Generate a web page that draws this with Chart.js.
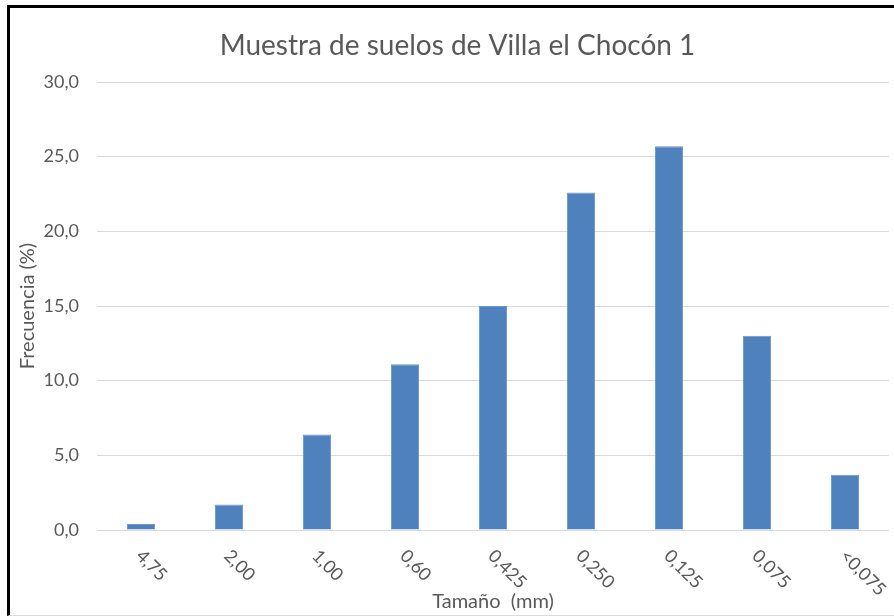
<!DOCTYPE html>
<html>
<head>
<meta charset="utf-8">
<script src="https://cdn.jsdelivr.net/npm/chart.js@4/dist/chart.umd.min.js"></script>
<style>
  html, body { margin: 0; padding: 0; background: #fff; }
  #wrap { position: relative; width: 894px; height: 616px; overflow: hidden; background: #fff; }
  #wrap canvas { position: absolute; left: 0; top: 0; }
  #frame {
    position: absolute; left: 7px; top: 5px; width: 900px; height: 611px;
    border-left: 3px solid #000; border-top: 3px solid #000; border-bottom: 1px solid #dcdcdc;
    pointer-events: none; box-sizing: border-box;
  }
</style>
</head>
<body>
<div id="wrap">
  <canvas id="c" width="914" height="616"></canvas>
  <div id="frame"></div>
</div>
<script>
// Particle-size classes (mm) and the share of sample retained in each (%)
const tamanos = ['4,75', '2,00', '1,00', '0,60', '0,425', '0,250', '0,125', '0,075', '<0,075'];
const frecuencia = [0.4, 1.7, 6.4, 11.1, 15.0, 22.6, 25.7, 13.0, 3.7];
const yTicks = [0, 5, 10, 15, 20, 25, 30];

const FONT = 'Lato, "Open Sans", sans-serif';
const GREY = '#595959';

// Category labels are written diagonally downwards to the right, below the axis
const diagonalLabels = {
  id: 'diagonalLabels',
  afterDraw(chart) {
    const ctx = chart.ctx;
    const x = chart.scales.x;
    const base = chart.chartArea.bottom;
    ctx.save();
    ctx.font = '18px ' + FONT;
    ctx.fillStyle = GREY;
    ctx.textAlign = 'left';
    ctx.textBaseline = 'middle';
    tamanos.forEach((lab, i) => {
      const px = x.getPixelForTick(i);
      ctx.save();
      ctx.translate(px - 2, base + 23);
      ctx.rotate(Math.PI / 4);
      ctx.fillText(lab, 0, 0);
      ctx.restore();
    });
    ctx.restore();
  }
};

new Chart(document.getElementById('c'), {
  type: 'bar',
  data: {
    labels: tamanos,
    datasets: [{
      data: frecuencia,
      backgroundColor: '#4f81bd',
      borderColor: '#6a96cc',
      borderWidth: 1,
      barPercentage: 0.32,
      categoryPercentage: 1.0
    }]
  },
  options: {
    responsive: false,
    animation: false,
    layout: { padding: { left: 26, right: 25, top: 0, bottom: 0 } },
    plugins: {
      legend: { display: false },
      tooltip: { enabled: false },
      title: {
        display: true,
        text: 'Muestra de suelos de Villa el Chocón 1',
        color: GREY,
        font: { family: FONT, size: 28, weight: 'normal' },
        padding: { top: 29, bottom: 19.4 }
      }
    },
    scales: {
      x: {
        afterFit(scale) { scale.height = 86; },
        grid: { display: false },
        border: { display: false },
        ticks: { display: false },
        title: {
          display: true,
          text: 'Tamaño  (mm)',
          color: GREY,
          font: { family: FONT, size: 20 },
          padding: { top: 50, bottom: 2 }
        }
      },
      y: {
        min: 0,
        max: 30,
        afterFit(scale) { scale.width = 71; },
        afterBuildTicks(scale) { scale.ticks = yTicks.map(v => ({ value: v })); },
        grid: { color: '#d9d9d9', lineWidth: 1, drawTicks: false },
        border: { display: false },
        ticks: {
          color: GREY,
          font: { family: FONT, size: 18 },
          padding: 18,
          callback: v => v.toFixed(1).replace('.', ',')
        },
        title: {
          display: true,
          text: 'Frecuencia (%)',
          color: GREY,
          font: { family: FONT, size: 20 },
          padding: { top: -10, bottom: 4 }
        }
      }
    }
  },
  plugins: [diagonalLabels]
});
</script>
</body>
</html>
